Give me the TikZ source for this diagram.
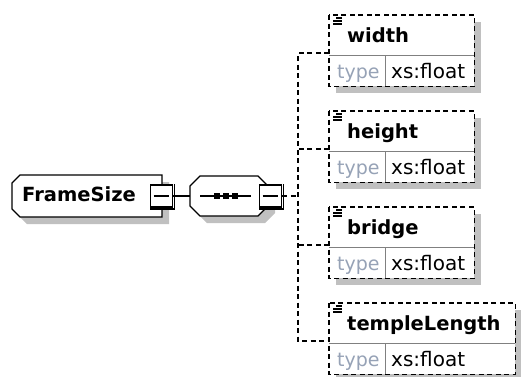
\documentclass[tikz,border=0pt]{standalone}
\usepackage{fontspec}
\setmainfont{DejaVu Sans}
\usetikzlibrary{calc}
\pgfdeclarelayer{bg}
\pgfsetlayers{bg,main}
\definecolor{shadowc}{RGB}{192,192,192}
\definecolor{typec}{RGB}{150,162,182}
\definecolor{divc}{RGB}{128,128,128}
\begin{document}
\begin{tikzpicture}[x=1pt,y=-1pt,
  namefont/.style={font=\fontsize{19.5}{20}\selectfont\bfseries, inner sep=0pt},
  typefont/.style={font=\fontsize{19}{20}\selectfont, text=typec, inner sep=0pt},
  valfont/.style={font=\fontsize{20}{20}\selectfont, inner sep=0pt},
  elembox/.style={fill=white, minimum height=71pt, anchor=north west, inner sep=0pt},
  dashedge/.style={dash pattern=on 5pt off 3.5pt, line width=1.6pt},
  dconn/.style={draw, dash pattern=on 5pt off 3.5pt, line width=1.6pt},
  minusbox/.style={draw, line width=1.6pt, fill=white, minimum width=22pt,
     minimum height=22pt, inner sep=0pt},
  divline/.style={draw=divc, line width=1pt},
  solidconn/.style={draw, line width=1.3pt},
  shapebox/.style={draw, line width=1.3pt, fill=white},
]
\useasboundingbox (0,0) rectangle (521,376);

% ---- child elements ----
\foreach \n/\t/\w [count=\i] in {width/15/145, height/111/145, bridge/207/145, templeLength/303/186}{
  \node[elembox, minimum width=\w pt] (e\i) at (329,\t) {};
  \begin{pgfonlayer}{bg}
    \fill[shadowc] ([shift={(7pt,-7pt)}]e\i.north west) rectangle ([shift={(7pt,-7pt)}]e\i.south east);
  \end{pgfonlayer}
  \draw[divline] ([yshift=-40pt]e\i.north west) -- ([yshift=-40pt]e\i.north east);
  \draw[divline] ([shift={(56pt,-40pt)}]e\i.north west) -- ([xshift=56pt]e\i.south west);
  \draw[dashedge] (e\i.north west) rectangle (e\i.south east);
  \draw[line width=1.1pt] ([shift={(7pt,-3pt)}]e\i.north west) -- ++(6,0);
  \draw[line width=1.1pt] ([shift={(4pt,-6pt)}]e\i.north west) -- ++(9,0);
  \draw[line width=1.1pt] ([shift={(4pt,-9pt)}]e\i.north west) -- ++(9,0);
  \node[namefont, anchor=base west] (n\i) at ([shift={(18pt,-27pt)}]e\i.north west) {\n};
  \node[typefont, anchor=base west] (ty\i) at ([shift={(8pt,-63pt)}]e\i.north west) {type};
  \node[valfont, anchor=base west] (v\i) at ([shift={(62pt,-63pt)}]e\i.north west) {xs:float};
  \coordinate (b\i) at ([yshift=-38pt]e\i.north west);
}

% ---- FrameSize element ----
\node[minimum width=150pt, minimum height=42pt, inner sep=0pt] (fs) at (87,196) {};
\begin{pgfonlayer}{bg}
  \fill[shadowc] (169,182) -- (27,182) -- (19,190) -- (19,216) -- (27,224) -- (169,224) -- cycle;
  \path[shapebox] (162,175) -- (20,175) -- (12,183) -- (12,209) -- (20,217) -- (162,217) -- cycle;
\end{pgfonlayer}
\node[namefont, anchor=base west] (fstxt) at (22,201.5) {FrameSize};
\node[minusbox] (fsm) at (161.5,196) {};
\draw[line width=1.2pt] ([xshift=1.2pt]fsm.north east) -- ([shift={(1.2pt,-1.2pt)}]fsm.south east) -- ([yshift=-1.2pt]fsm.south west);
\draw[line width=1.3pt] ([xshift=4pt]fsm.west) -- ([xshift=-4pt]fsm.east);

% ---- sequence compositor ----
\node[minimum width=78pt, minimum height=40pt, inner sep=0pt] (seq) at (229,196) {};
\begin{pgfonlayer}{bg}
  \fill[shadowc] (207,183) -- (265,183) -- (275,193) -- (275,213) -- (265,223) -- (207,223) -- (197,213) -- (197,193) -- cycle;
  \path[shapebox] (200,176) -- (258,176) -- (268,186) -- (268,206) -- (258,216) -- (200,216) -- (190,206) -- (190,186) -- cycle;
\end{pgfonlayer}
\draw[line width=1.3pt] (200,196) -- (251,196);
\foreach \d in {217,226,235}{ \fill (\d,196) +(-2.7,-2.7) rectangle +(2.7,2.7); }
\node[minusbox] (seqm) at (270.5,196) {};
\draw[line width=1.2pt] ([xshift=1.2pt]seqm.north east) -- ([shift={(1.2pt,-1.2pt)}]seqm.south east) -- ([yshift=-1.2pt]seqm.south west);
\draw[line width=1.3pt] ([xshift=4pt]seqm.west) -- ([xshift=-4pt]seqm.east);

% ---- connectors ----
\coordinate (spine) at (298,196);
\draw[solidconn] (fsm.east) -- (seq.west);
\draw[dconn] (seqm.east) -- (spine);
\draw[dconn] (b1) -- (spine |- b1) -- (spine |- b4) -- (b4);
\draw[dconn] (b2) -- (spine |- b2);
\draw[dconn] (b3) -- (spine |- b3);
\end{tikzpicture}
\end{document}
